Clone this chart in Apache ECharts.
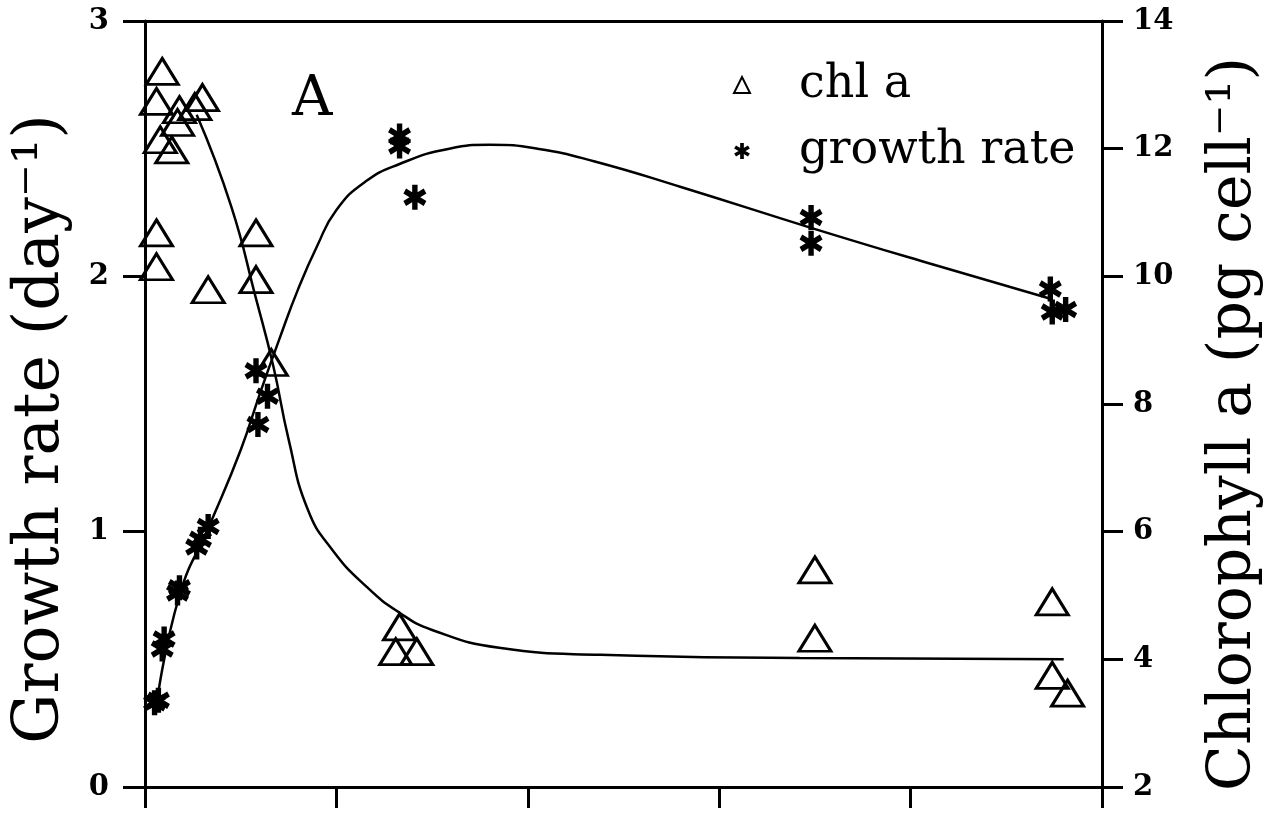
<!DOCTYPE html>
<html>
<head>
<meta charset="utf-8">
<script src="https://cdn.jsdelivr.net/npm/echarts@6/dist/echarts.min.js"></script>
<style>
  html, body { margin: 0; padding: 0; background: #fff; }
  #chart { width: 1280px; height: 822px; }
</style>
</head>
<body>
<div id="chart"></div>
<script>
'use strict';

// chl a points (triangles, right axis)
const chlX = [0.09, 0.06, 0.30, 0.26, 0.18, 0.17, 0.08, 0.14, 0.06, 0.06, 0.33, 0.58, 0.58, 0.66,
              1.33, 1.31, 1.42, 3.50, 3.50, 4.74, 4.74, 4.82];
const chlY = [13.21, 12.74, 12.80, 12.66, 12.61, 12.41, 12.14, 11.98, 10.68, 10.15, 9.79, 10.68, 9.95, 8.65,
              4.51, 4.12, 4.12, 5.40, 4.33, 4.90, 3.75, 3.47];

// growth rate points (asterisks, left axis)
const growthX = [0.05, 0.07, 0.09, 0.10, 0.17, 0.18, 0.27, 0.29, 0.33, 0.59, 0.58, 0.64,
                 1.33, 1.33, 1.41, 3.48, 3.48, 4.73, 4.74, 4.81];
const growthY = [0.33, 0.34, 0.54, 0.58, 0.76, 0.78, 0.94, 0.97, 1.02, 1.42, 1.63, 1.53,
                 2.55, 2.51, 2.31, 2.23, 2.13, 1.95, 1.86, 1.87];

// fitted curves
const growthFitX = [0.06, 0.18, 0.34, 0.50, 0.60, 0.70, 0.80, 0.90, 1.00, 1.15, 1.33, 1.59, 1.80, 2.05, 2.35, 2.80, 3.48, 4.10, 4.74];
const growthFitY = [0.32, 0.75, 1.03, 1.32, 1.54, 1.75, 1.95, 2.12, 2.26, 2.37, 2.44, 2.50, 2.515, 2.50, 2.45, 2.35, 2.19, 2.05, 1.91];

const chlFitX = [0.27, 0.45, 0.58, 0.67, 0.75, 0.85, 0.98, 1.16, 1.33, 1.50, 1.85, 2.38, 3.42, 4.80];
const chlFitY = [12.53, 11.10, 9.65, 8.60, 7.45, 6.35, 5.71, 5.13, 4.73, 4.46, 4.18, 4.07, 4.02, 4.00];

const seriesNames = ['chl a', 'growth rate'];

const pairs = (xs, ys) => xs.map((x, i) => [x, ys[i]]);

// asterisk: three bars, same winding so the middle stays filled
const asterisk = 'path://M-2.3,-10L2.3,-10L2.3,10L-2.3,10Z' +
  'M-9.8,-3.0L-7.5,-7.0L9.8,3.0L7.5,7.0Z' +
  'M-7.5,7.0L-9.8,3.0L7.5,-7.0L9.8,-3.0Z';

const serif = '"DejaVu Serif", "Liberation Serif", serif';
const axisLine = { show: true, onZero: false, lineStyle: { color: '#000', width: 3 } };

const chart = echarts.init(document.getElementById('chart'));

const option = {
  backgroundColor: '#fff',
  animation: false,
  grid: { left: 145, right: 178, top: 21, bottom: 35, containLabel: false, outerBoundsMode: 'none' },
  legend: {
    orient: 'vertical',
    left: 728,
    top: 57,
    itemGap: 20,
    itemWidth: 16,
    itemHeight: 16,
    textStyle: { fontFamily: serif, fontSize: 46, color: '#000', padding: [0, 0, 0, 44] },
    data: [
      { name: seriesNames[0], icon: 'triangle', itemStyle: { borderWidth: 2 } },
      { name: seriesNames[1], icon: asterisk }
    ]
  },
  xAxis: [
    {
      type: 'value', min: 0, max: 5, interval: 1,
      axisLine: axisLine,
      axisTick: { show: true, length: 21, lineStyle: { color: '#000', width: 3 } },
      axisLabel: { show: false },
      splitLine: { show: false }
    },
    {
      type: 'value', position: 'top', min: 0, max: 5,
      axisLine: axisLine,
      axisTick: { show: false },
      axisLabel: { show: false },
      splitLine: { show: false }
    }
  ],
  yAxis: [
    {
      type: 'value', min: 0, max: 3, interval: 1,
      name: 'Growth rate (day⁻¹)',
      nameLocation: 'middle', nameRotate: 90, nameGap: 72,
      nameTextStyle: { fontFamily: serif, fontSize: 63, color: '#000', padding: [0, 50, 0, 0] },
      axisLine: axisLine,
      axisTick: { show: true, length: 22, lineStyle: { color: '#000', width: 3 } },
      axisLabel: { margin: 36, fontFamily: serif, fontWeight: 'bold', fontSize: 29, color: '#000' },
      splitLine: { show: false }
    },
    {
      type: 'value', position: 'right', min: 2, max: 14, interval: 2,
      name: 'Chlorophyll a (pg cell⁻¹)',
      nameLocation: 'middle', nameRotate: 90, nameGap: 102,
      nameTextStyle: { fontFamily: serif, fontSize: 60, color: '#000', padding: [0, 40, 0, 0] },
      axisLine: axisLine,
      axisTick: { show: true, length: 21, lineStyle: { color: '#000', width: 3 } },
      axisLabel: { margin: 31, fontFamily: serif, fontWeight: 'bold', fontSize: 29, color: '#000' },
      splitLine: { show: false }
    }
  ],
  graphic: [
    {
      type: 'text', left: 292, top: 72,
      style: { text: 'A', fontFamily: serif, fontSize: 56, fill: '#000' }
    }
  ],
  series: [
    {
      name: 'growth fit', type: 'line', yAxisIndex: 0,
      data: pairs(growthFitX, growthFitY),
      smooth: 0.5, showSymbol: false,
      lineStyle: { color: '#000', width: 2.5 }, z: 2
    },
    {
      name: 'chl fit', type: 'line', yAxisIndex: 1,
      data: pairs(chlFitX, chlFitY),
      smooth: 0.5, showSymbol: false,
      lineStyle: { color: '#000', width: 2.5 }, z: 2
    },
    {
      name: seriesNames[0], type: 'scatter', yAxisIndex: 1,
      data: pairs(chlX, chlY),
      symbol: 'triangle', symbolSize: [32, 26],
      itemStyle: { color: 'rgba(0,0,0,0)', borderColor: '#000', borderWidth: 3, opacity: 1 }, z: 3
    },
    {
      name: seriesNames[1], type: 'scatter', yAxisIndex: 0,
      data: pairs(growthX, growthY),
      symbol: asterisk, symbolSize: [23, 25],
      itemStyle: { color: '#000', opacity: 1 }, z: 4
    }
  ]
};

chart.setOption(option);
</script>
</body>
</html>
